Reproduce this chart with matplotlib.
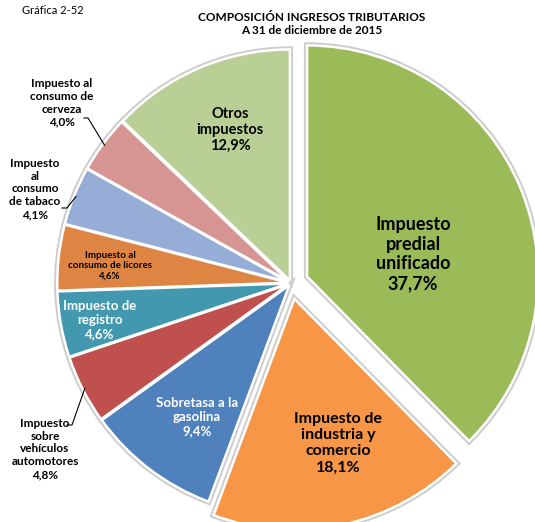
import numpy as np
import matplotlib.pyplot as plt

plt.rcParams['font.family'] = ['Lato', 'DejaVu Sans']

nombres = ["Impuesto\npredial\nunificado", "Impuesto de\nindustria y\ncomercio",
           "Sobretasa a la\ngasolina", "Impuesto\nsobre\nvehículos\nautomotores",
           "Impuesto de\nregistro", "Impuesto al\nconsumo de licores",
           "Impuesto\nal\nconsumo\nde tabaco", "Impuesto al\nconsumo de\ncerveza",
           "Otros\nimpuestos"]
porcentajes = [37.7, 18.1, 9.4, 4.8, 4.6, 4.6, 4.1, 4.0, 12.9]
colores = ["#9BBB59", "#F79646", "#4F81BD", "#C0504D", "#4198AF",
           "#DE8544", "#95ADD7", "#D69492", "#BACF96"]
separacion = [0.075, 0.07, 0.012, 0.012, 0.012, 0.012, 0.012, 0.012, 0.012]

W, H = 535, 522
fig = plt.figure(figsize=(W / 100, H / 100), dpi=100)
ax = fig.add_axes([0, 0, 1, 1])

cx, cy, R = 291, H - 283, 231
desplaz = [s * R for s in separacion]  # pie usa unidades de datos

# contorno gris suave debajo de las porciones
ax.pie(porcentajes, colors=colores, startangle=90, counterclock=False,
       explode=desplaz, center=(cx, cy), radius=R,
       wedgeprops=dict(edgecolor="#cccccc", linewidth=4.5))
wedges, _ = ax.pie(porcentajes, colors=colores, startangle=90, counterclock=False,
                   explode=desplaz, center=(cx, cy), radius=R,
                   wedgeprops=dict(edgecolor="white", linewidth=1.8))
ax.set_xlim(0, W)
ax.set_ylim(0, H)
ax.set_aspect("equal")
ax.axis("off")

etiquetas = [f"{n}\n{p:.1f}%".replace(".", ",") for n, p in zip(nombres, porcentajes)]

# (x, y en píxeles desde arriba, tamaño, color)
estilo = [
    (413, 254, 13, "black"),
    (338, 443, 11.5, "black"),
    (197, 417, 9.5, "white"),
    (45, 449, 8.5, "black"),
    (100, 320, 9.5, "white"),
    (110, 266, 7, "black"),
    (35, 189, 8.5, "black"),
    (62, 103, 8.5, "black"),
    (230, 130, 10.5, "black"),
]
for txt, (x, y, fs, c) in zip(etiquetas, estilo):
    ax.text(x, H - y, txt, ha="center", va="center", fontsize=fs,
            fontweight="bold", color=c, linespacing=1.2)

# líneas guía de las etiquetas externas
guias = {3: [(72, 425), (67, 425)], 6: [(67, 208), (62, 208)], 7: [(88, 118), (84, 118)]}
for i, codo in guias.items():
    w = wedges[i]
    ang = np.deg2rad((w.theta1 + w.theta2) / 2)
    x0 = w.center[0] + (R - 2) * np.cos(ang)
    y0 = w.center[1] + (R - 2) * np.sin(ang)
    xs = [x0] + [p[0] for p in codo]
    ys = [y0] + [H - p[1] for p in codo]
    ax.plot(xs, ys, color="black", lw=0.8)

fig.text(22 / W, 1 - 10 / H, "Gráfica 2-52", fontsize=8, va="center", ha="left")
fig.text(312 / W, 1 - 24 / H, "COMPOSICIÓN INGRESOS TRIBUTARIOS\nA 31 de diciembre de 2015",
         fontsize=8.5, fontweight="bold", ha="center", va="center", linespacing=1.3)

fig.savefig("out.png", dpi=100)
